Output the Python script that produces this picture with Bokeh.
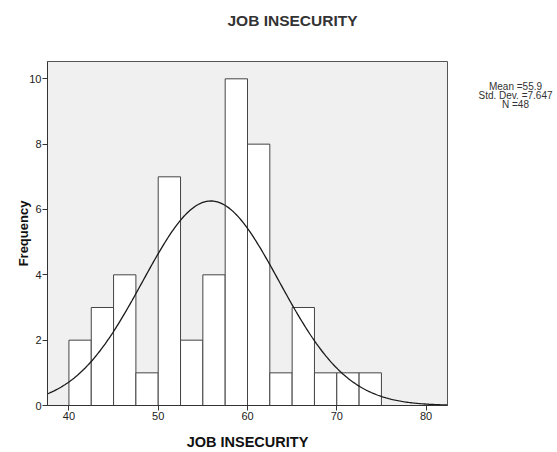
import numpy as np
from bokeh.plotting import figure
from bokeh.models import FixedTicker, Range1d, Title
from bokeh.layouts import row
from bokeh.embed import file_html
from bokeh.resources import INLINE

# ---- data ----
bin_edges = [40.0, 42.5, 45.0, 47.5, 50.0, 52.5, 55.0, 57.5, 60.0, 62.5, 65.0, 67.5, 70.0, 72.5, 75.0]
counts = [2, 3, 4, 1, 7, 2, 4, 10, 8, 1, 3, 1, 1, 1]
mean_val = 55.9
std_val = 7.647
n_val = 48
x_ticks = [40, 50, 60, 70, 80]
y_ticks = [0, 2, 4, 6, 8, 10]
title_text = "JOB INSECURITY"
x_label = "JOB INSECURITY"
y_label = "Frequency"
stats_lines = ["Mean =55.9", "Std. Dev. =7.647", "N =48"]

# ---- layout (page pixels) ----
W_TOTAL, H = 557, 452
FL, FR, FT, FB = 47, 447, 61, 405   # frame edges
W_MAIN = FR + 1
W_SIDE = W_TOTAL - W_MAIN
X0, X1 = 37.6, 82.4
Y0, Y1 = 0.0, 10.53

p = figure(width=W_MAIN, height=H, output_backend="svg", toolbar_location=None,
           x_range=Range1d(X0, X1), y_range=Range1d(Y0, Y1),
           min_border_left=FL, min_border_right=W_MAIN - FR,
           min_border_top=FT, min_border_bottom=H - FB)
p.title.text = ""
p.title_location = None

p.background_fill_color = "#f0f0f0"
p.border_fill_color = "white"
p.outline_line_color = "#555555"
p.outline_line_width = 1
p.xgrid.visible = False
p.ygrid.visible = False

# title: spacer first (closest to the frame), then the visible title
p.add_layout(Title(text="\u00a0", text_font_size="10px", standoff=20), "above")
p.add_layout(Title(text=title_text, align="left", offset=180, standoff=0,
                   vertical_align="bottom", text_font="Liberation Sans",
                   text_font_size="15.5px", text_font_style="bold",
                   text_color="#333333"), "above")

# bars
lefts = bin_edges[:-1]
rights = bin_edges[1:]
p.quad(left=lefts, right=rights, bottom=0, top=counts,
       fill_color="white", line_color="#444444", line_width=1)

# normal curve from mean, std. dev. and N
bw = bin_edges[1] - bin_edges[0]
xs = np.linspace(X0, X1, 300)
ys = n_val * bw * np.exp(-0.5 * ((xs - mean_val) / std_val) ** 2) / (std_val * np.sqrt(2 * np.pi))
p.line(xs, ys, line_color="#1a1a1a", line_width=1.3)

# axes
for ax in (p.xaxis[0], p.yaxis[0]):
    ax.axis_line_color = "#333333"
    ax.major_tick_line_color = "#333333"
    ax.major_tick_out = 5
    ax.major_tick_in = 0
    ax.minor_tick_out = 0
    ax.minor_tick_in = 0
    ax.major_label_text_font = "Liberation Sans"
    ax.major_label_text_font_size = "11px"
    ax.major_label_text_color = "#222222"
    ax.major_label_standoff = 1
    ax.axis_label_text_font = "Liberation Sans"
    ax.axis_label_text_font_style = "bold"
    ax.axis_label_text_color = "#111111"

p.xaxis.ticker = FixedTicker(ticks=x_ticks)
p.yaxis.ticker = FixedTicker(ticks=y_ticks)
p.xaxis.axis_label = x_label
p.yaxis.axis_label = y_label
p.xaxis.axis_label_text_font_size = "14.5px"
p.yaxis.axis_label_text_font_size = "13px"
p.xaxis.axis_label_standoff = 11
p.yaxis.axis_label_standoff = -5

# side panel with the summary statistics (its frame is aligned with the main frame)
s = figure(width=W_SIDE, height=H, output_backend="svg", toolbar_location=None,
           x_range=Range1d(0, W_SIDE), y_range=Range1d(FB, FT),
           x_axis_type=None, y_axis_type=None,
           min_border=0, min_border_left=0, min_border_right=0,
           min_border_top=FT, min_border_bottom=H - FB)
s.outline_line_color = None
s.background_fill_color = "white"
s.border_fill_color = "white"
s.title_location = None
s.text(x=[67, 67, 67], y=[86, 95, 104], text=stats_lines,
       text_align="center", text_baseline="middle", text_font_size="10px",
       text_font={"value": "Liberation Sans"}, text_color="#333333")

layout = row(p, s, spacing=0)
open("out.html", "w").write(file_html(layout, INLINE))
